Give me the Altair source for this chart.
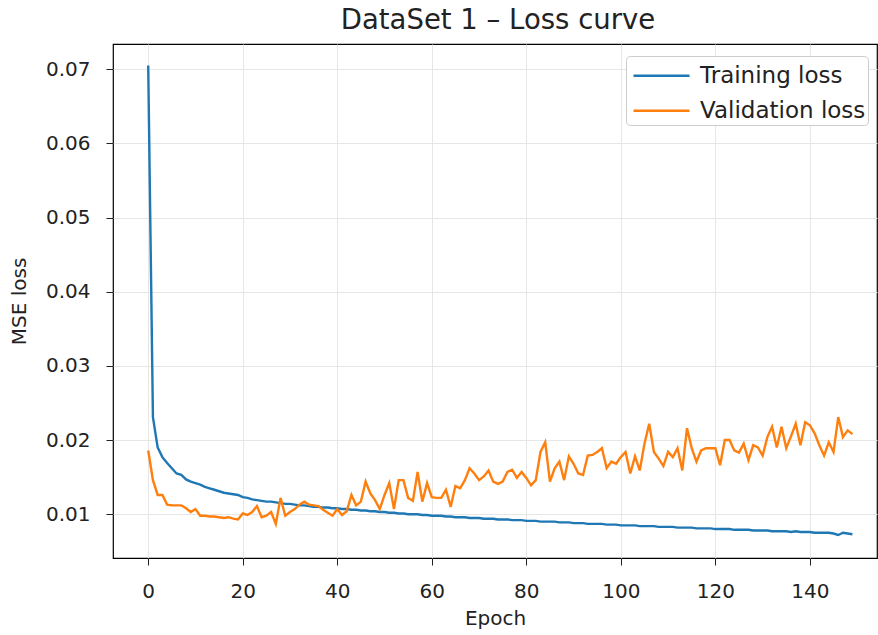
import altair as alt
import pandas as pd

epochs = list(range(150))

train_loss = [
    0.0705, 0.0231, 0.0190, 0.0177, 0.0169, 0.0162, 0.0155, 0.0153, 0.0147, 0.0144,
    0.0142, 0.0140, 0.0137, 0.0135, 0.0133, 0.0131, 0.0129, 0.0128, 0.0127, 0.0126,
    0.0123, 0.0122, 0.0120, 0.0119, 0.0118, 0.0117, 0.0117, 0.0116, 0.0115, 0.0114,
    0.0114, 0.0113, 0.0112, 0.0112, 0.0111, 0.0110, 0.0110, 0.0109, 0.0109, 0.0108,
    0.0108, 0.0107, 0.0107, 0.0106, 0.0106, 0.0105, 0.0105, 0.0104, 0.0104, 0.0103,
    0.0103, 0.0102, 0.0102, 0.0101, 0.0101, 0.0100, 0.0100, 0.0100, 0.0099, 0.0099,
    0.0098, 0.0098, 0.0098, 0.0097, 0.0097, 0.0096, 0.0096, 0.0096, 0.0095, 0.0095,
    0.0095, 0.0094, 0.0094, 0.0094, 0.0093, 0.0093, 0.0093, 0.0092, 0.0092, 0.0092,
    0.0091, 0.0091, 0.0091, 0.0090, 0.0090, 0.0090, 0.0090, 0.0089, 0.0089, 0.0089,
    0.0088, 0.0088, 0.0088, 0.0087, 0.0087, 0.0087, 0.0087, 0.0086, 0.0086, 0.0086,
    0.0085, 0.0085, 0.0085, 0.0085, 0.0084, 0.0084, 0.0084, 0.0084, 0.0083, 0.0083,
    0.0083, 0.0083, 0.0082, 0.0082, 0.0082, 0.0082, 0.0081, 0.0081, 0.0081, 0.0081,
    0.0080, 0.0080, 0.0080, 0.0080, 0.0079, 0.0079, 0.0079, 0.0079, 0.0078, 0.0078,
    0.0078, 0.0078, 0.0077, 0.0077, 0.0077, 0.0077, 0.0076, 0.0077, 0.0076, 0.0076,
    0.0076, 0.0075, 0.0075, 0.0075, 0.0075, 0.0074, 0.0072, 0.0075, 0.0074, 0.0073,
]

val_loss = [
    0.0186, 0.0146, 0.0126, 0.0126, 0.0113, 0.0112, 0.0112, 0.0112, 0.0108, 0.0103,
    0.0107, 0.0098, 0.0098, 0.0097, 0.0097, 0.0096, 0.0095, 0.0096, 0.0094, 0.0093,
    0.0101, 0.0099, 0.0103, 0.0111, 0.0096, 0.0098, 0.0103, 0.0087, 0.0122, 0.0098,
    0.0103, 0.0107, 0.0113, 0.0117, 0.0113, 0.0112, 0.0111, 0.0106, 0.0102, 0.0098,
    0.0107, 0.0099, 0.0104, 0.0126, 0.0112, 0.0117, 0.0144, 0.0128, 0.0119, 0.0107,
    0.0126, 0.0142, 0.0107, 0.0146, 0.0146, 0.0122, 0.0118, 0.0157, 0.0117, 0.0142,
    0.0123, 0.0122, 0.0122, 0.0133, 0.0110, 0.0138, 0.0135, 0.0146, 0.0162, 0.0155,
    0.0146, 0.0151, 0.0159, 0.0144, 0.0141, 0.0144, 0.0157, 0.0160, 0.0149, 0.0157,
    0.0149, 0.0139, 0.0146, 0.0184, 0.0197, 0.0144, 0.0162, 0.0171, 0.0146, 0.0178,
    0.0168, 0.0155, 0.0153, 0.0179, 0.0180, 0.0184, 0.0189, 0.0162, 0.0171, 0.0168,
    0.0177, 0.0184, 0.0155, 0.0178, 0.0159, 0.0195, 0.0222, 0.0184, 0.0175, 0.0165,
    0.0184, 0.0177, 0.0189, 0.0159, 0.0216, 0.0189, 0.0171, 0.0186, 0.0189, 0.0189,
    0.0189, 0.0166, 0.0200, 0.0200, 0.0186, 0.0183, 0.0195, 0.0173, 0.0193, 0.0190,
    0.0179, 0.0204, 0.0218, 0.0190, 0.0218, 0.0189, 0.0205, 0.0222, 0.0193, 0.0224,
    0.0220, 0.0209, 0.0193, 0.0179, 0.0197, 0.0184, 0.0231, 0.0204, 0.0213, 0.0208,
]

series_names = ["Training loss", "Validation loss"]
series_colors = ["#1f77b4", "#ff7f0e"]
x_ticks = [0, 20, 40, 60, 80, 100, 120, 140]
y_ticks = [0.01, 0.02, 0.03, 0.04, 0.05, 0.06, 0.07]

df = pd.concat([
    pd.DataFrame({"Epoch": epochs, "loss": train_loss, "series": series_names[0], "order": 0}),
    pd.DataFrame({"Epoch": epochs, "loss": val_loss, "series": series_names[1], "order": 1}),
])

FONT = "DejaVu Sans"

chart = alt.Chart(df).mark_line(strokeWidth=2.4).encode(
    x=alt.X("Epoch:Q",
            scale=alt.Scale(domain=[-7.45, 154.2], nice=False, zero=False),
            axis=alt.Axis(values=x_ticks, title="Epoch", format="d")),
    y=alt.Y("loss:Q",
            scale=alt.Scale(domain=[0.0041, 0.0734], nice=False, zero=False),
            axis=alt.Axis(values=y_ticks, title="MSE loss", format=".2f")),
    color=alt.Color("series:N",
                    scale=alt.Scale(domain=series_names, range=series_colors),
                    legend=alt.Legend(title=None, orient="none", legendX=513, legendY=12,
                                      symbolType="M-1,-0.42H1", symbolSize=3136,
                                      symbolStrokeWidth=2.4, symbolOffset=4,
                                      labelFontSize=23, labelBaseline="bottom",
                                      labelLimit=400,
                                      labelFont=FONT, labelColor="#222222",
                                      fillColor="white", strokeColor="#cccccc",
                                      cornerRadius=4, padding=2, rowPadding=5,
                                      labelOffset=9)),
    order="order:Q",
).properties(
    width=764,
    height=514,
    title=alt.TitleParams("DataSet 1 – Loss curve", fontSize=27.5, font=FONT,
                          fontWeight="normal", color="#222222", offset=10, dx=3),
    padding={"left": 113, "top": 44, "right": 1, "bottom": 77},
    autosize=alt.AutoSizeParams(type="none"),
).configure_view(
    stroke="black", strokeWidth=1.2
).configure_axis(
    labelFont=FONT, titleFont=FONT, labelFontSize=20, titleFontSize=20,
    titleFontWeight="normal", labelColor="#222222", titleColor="#222222",
    tickColor="#222222", tickSize=7, domain=False,
    grid=True, gridColor="#e6e6e6", gridWidth=1,
    labelPadding=16,
).configure_axisY(
    titlePadding=16
).configure_axisX(
    titlePadding=7
)

chart.save("out.html", embed_options={"renderer": "svg", "actions": False})
